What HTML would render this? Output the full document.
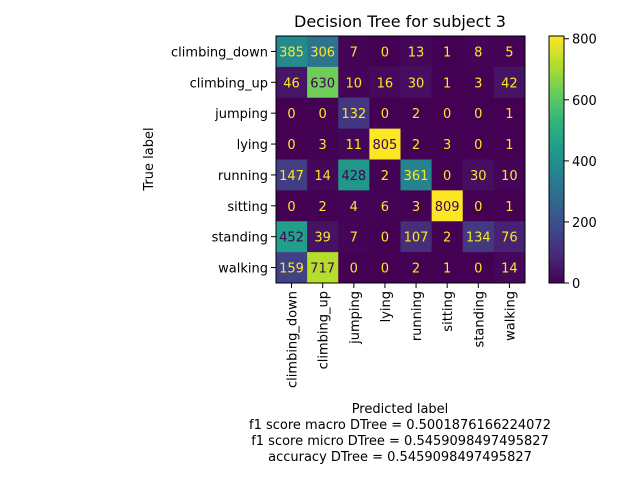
<!DOCTYPE html>
<html><head><meta charset="utf-8"><style>
body{margin:0;background:#fff}
svg text{font-family:"DejaVu Sans","Liberation Sans",sans-serif;}
</style></head><body>
<svg id="chart" width="640" height="480" xmlns="http://www.w3.org/2000/svg">
<text x="400" y="27" font-size="16" text-anchor="middle">Decision Tree for subject 3</text>
<g id="cells"></g>
<g id="ticks"></g>
<rect x="276" y="36" width="249" height="247" fill="none" stroke="#000" stroke-width="1"/>
<text transform="translate(153,159) rotate(-90)" font-size="13" text-anchor="middle">True label</text>
<text x="400" y="413" font-size="13" text-anchor="middle">Predicted label</text>
<text x="400" y="429" font-size="13" text-anchor="middle">f1 score macro DTree = 0.5001876166224072</text>
<text x="400" y="445" font-size="13" text-anchor="middle">f1 score micro DTree = 0.5459098497495827</text>
<text x="400" y="461" font-size="13" text-anchor="middle">accuracy DTree = 0.5459098497495827</text>
<defs><linearGradient id="vir" x1="0" y1="1" x2="0" y2="0"></linearGradient></defs>
<rect x="549" y="36" width="15" height="247" fill="url(#vir)" stroke="#000" stroke-width="1"/>
<g id="cbticks"></g>
</svg>
<script>
const labels=["climbing_down","climbing_up","jumping","lying","running","sitting","standing","walking"];
const row0=[385,306,7,0,13,1,8,5];
const row1=[46,630,10,16,30,1,3,42];
const row2=[0,0,132,0,2,0,0,1];
const row3=[0,3,11,805,2,3,0,1];
const row4=[147,14,428,2,361,0,30,10];
const row5=[0,2,4,6,3,809,0,1];
const row6=[452,39,7,0,107,2,134,76];
const row7=[159,717,0,0,2,1,0,14];
const cbTicks=[0,200,400,600,800];
const matrix=[row0,row1,row2,row3,row4,row5,row6,row7];
const NS="http://www.w3.org/2000/svg";
const X0=276,Y0=36,W=249,H=247,n=labels.length,cw=W/n,ch=H/n;
const flat=matrix.flat();const vmin=Math.min(...flat),vmax=Math.max(...flat);
const vir=[[68,1,84],[72,40,120],[62,74,137],[49,104,142],[38,130,142],[31,158,137],[53,183,121],[110,206,88],[181,222,43],[253,231,37]];
function color(v){let t=(v-vmin)/(vmax-vmin);t=Math.max(0,Math.min(1,t))*(vir.length-1);const i=Math.min(Math.floor(t),vir.length-2),f=t-i;const c=vir[i].map((a,k)=>Math.round(a+(vir[i+1][k]-a)*f));return `rgb(${c})`;}
function xs(j){return X0+j*cw;}function ys(i){return Y0+i*ch;}
function mk(tag,a,p){const e=document.createElementNS(NS,tag);for(const k in a)e.setAttribute(k,a[k]);p.appendChild(e);return e;}
const cells=document.getElementById('cells'),ticks=document.getElementById('ticks');
matrix.forEach((row,i)=>row.forEach((v,j)=>{
 const r=mk('rect',{x:xs(j),y:ys(i),width:cw+0.5,height:ch+0.5,fill:color(v)},cells);
 
 
 const t=mk('text',{x:xs(j)+cw/2,y:ys(i)+ch/2+5,'font-size':13,'text-anchor':'middle',fill:v>(vmin+vmax)/2?'#440154':'#fde725'},cells);
 t.textContent=v;
 
 
}));
labels.forEach((l,i)=>{
 mk('line',{x1:X0-5,x2:X0,y1:ys(i)+ch/2,y2:ys(i)+ch/2,stroke:'#000'},ticks);
 const t=mk('text',{x:X0-8,y:ys(i)+ch/2+5,'font-size':13,'text-anchor':'end'},ticks);t.textContent=l;
 
 
 mk('line',{x1:xs(i)+cw/2,x2:xs(i)+cw/2,y1:Y0+H,y2:Y0+H+5,stroke:'#000'},ticks);
 const u=mk('text',{transform:`translate(${xs(i)+cw/2+5},${Y0+H+8}) rotate(-90)`,'font-size':13,'text-anchor':'end'},ticks);u.textContent=l;
 
 
});
const g=document.getElementById('vir');
vir.forEach((c,i)=>mk('stop',{offset:i/(vir.length-1),'stop-color':`rgb(${c})`},g));
const cb=document.getElementById('cbticks');
cbTicks.forEach(v=>{const y=283-(v-vmin)/(vmax-vmin)*247;
 mk('line',{x1:564,x2:569,y1:y,y2:y,stroke:'#000'},cb);
 const t=mk('text',{x:572,y:y+5,'font-size':13},cb);t.textContent=v;
 
 });
</script>
</body></html>
